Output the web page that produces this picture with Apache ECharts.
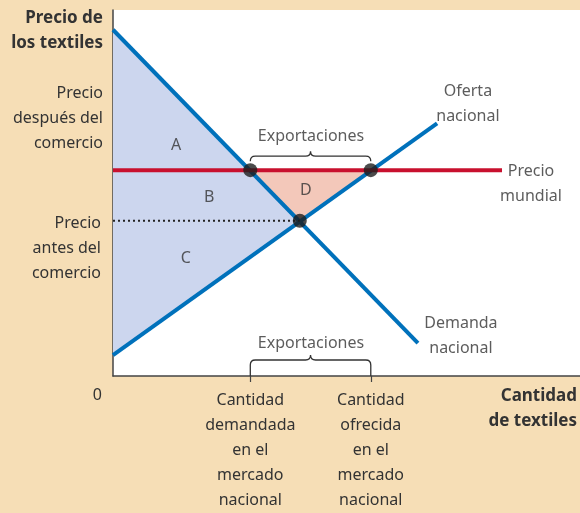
<!DOCTYPE html>
<html>
<head>
<meta charset="utf-8">
<script src="https://cdn.jsdelivr.net/npm/echarts@6/dist/echarts.min.js"></script>
<style>
  html, body { margin: 0; padding: 0; background: #f6deb6; }
  #chart { width: 580px; height: 513px; }
</style>
</head>
<body>
<div id="chart"></div>
<script>
// datos (escala 0-100 en ambos ejes)
var demanda = [[0, 94.6], [65.3, 9.0]];
var oferta = [[0, 5.7], [69.4, 69.0]];
var precioMundial = 56.25;
var finPrecioMundial = 83.3;
var precioAntes = 42.4;
var equilibrio = [40.0, 42.4];
var qDemandada = 29.4;
var qOfrecida = 55.2;

var etiquetasX = ['Cantidad\ndemandada\nen el\nmercado\nnacional', 'Cantidad\nofrecida\nen el\nmercado\nnacional'];
// texto, x, y
var etiquetas = [
  ['A', 13.5, 63.0],
  ['B', 20.6, 48.9],
  ['C', 15.6, 32.1],
  ['D', 41.3, 50.8],
  ['Exportaciones', 42.4, 65.5],
  ['Exportaciones', 42.4, 9.0],
  ['Oferta\nnacional', 76.0, 74.2],
  ['Precio\nmundial', 89.5, 52.4],
  ['Demanda\nnacional', 74.5, 10.9]
];

var fuente = 'Noto Sans';
var texto = '#333';

var areaAzul = [demanda[0], equilibrio, oferta[0]];
var areaD = [[qDemandada, precioMundial], [qOfrecida, precioMundial], equilibrio];

function poligono(puntos, color) {
  return {
    type: 'custom',
    silent: true,
    z: 1,
    data: [0],
    renderItem: function (params, api) {
      var pts = puntos.map(function (p) { return api.coord(p); });
      return { type: 'polygon', shape: { points: pts }, style: { fill: color } };
    }
  };
}

function llave(x1, x2, yb, cola) {
  var r = 5, yl = yb - cola - r, xm = (x1 + x2) / 2;
  return 'M' + x1 + ',' + yb + ' L' + x1 + ',' + (yb - cola) +
    ' Q' + x1 + ',' + yl + ' ' + (x1 + r) + ',' + yl +
    ' L' + (xm - r) + ',' + yl +
    ' Q' + xm + ',' + yl + ' ' + xm + ',' + (yl - r) +
    ' Q' + xm + ',' + yl + ' ' + (xm + r) + ',' + yl +
    ' L' + (x2 - r) + ',' + yl +
    ' Q' + x2 + ',' + yl + ' ' + x2 + ',' + (yb - cola) +
    ' L' + x2 + ',' + yb;
}

function titulo(txt, x, y, negrita) {
  return {
    type: 'text', x: x, y: y,
    style: {
      text: txt, fill: texto, lineHeight: 25, align: 'right', verticalAlign: 'top',
      font: (negrita ? 'bold 17px ' : '16px ') + fuente
    }
  };
}

var chart = echarts.init(document.getElementById('chart'));
var option = {
  animation: false,
  backgroundColor: '#f6deb6',
  textStyle: { fontFamily: fuente },
  grid: { left: 113, right: 0, top: 10, bottom: 135, show: true, backgroundColor: '#fff', borderWidth: 0 },
  xAxis: {
    type: 'value', min: 0, max: 100,
    splitLine: { show: false },
    axisLine: { lineStyle: { color: '#444', width: 1.5 } },
    axisTick: { show: true, customValues: [qDemandada, qOfrecida], length: 6, lineStyle: { color: '#444', width: 1.2 } },
    axisLabel: {
      customValues: [qDemandada, qOfrecida],
      margin: 12,
      color: texto, fontSize: 16, lineHeight: 25, fontFamily: fuente,
      formatter: function (v) { return v === qDemandada ? etiquetasX[0] : etiquetasX[1]; }
    }
  },
  yAxis: {
    type: 'value', min: 0, max: 100,
    splitLine: { show: false },
    axisLine: { show: true, lineStyle: { color: '#444', width: 1.5 } },
    axisTick: { show: false },
    axisLabel: { show: false }
  },
  graphic: [
    titulo('Precio de\nlos textiles', 103, 5.5, true),
    titulo('Precio\ndespués del\ncomercio', 103, 80.5),
    titulo('Precio\nantes del\ncomercio', 101, 210.5),
    titulo('0', 102, 382.5),
    titulo('Cantidad\nde textiles', 577, 383.5, true)
  ],
  series: [
    poligono(areaAzul, '#ccd6ee'),
    poligono(areaD, '#f3c8ba'),
    {
      type: 'line', data: demanda, symbol: 'none', silent: true, z: 3,
      lineStyle: { color: '#0071bb', width: 4 }
    },
    {
      type: 'line', data: oferta, symbol: 'none', silent: true, z: 3,
      lineStyle: { color: '#0071bb', width: 4 }
    },
    {
      type: 'line', data: [[0, precioMundial], [finPrecioMundial, precioMundial]], symbol: 'none', silent: true, z: 4,
      lineStyle: { color: '#c8102e', width: 4 }
    },
    {
      type: 'line', data: [[0, precioAntes], equilibrio], symbol: 'none', silent: true, z: 3,
      lineStyle: { color: '#222', width: 2, type: [2, 3] }
    },
    {
      type: 'scatter', data: [[qDemandada, precioMundial], [qOfrecida, precioMundial], equilibrio],
      symbolSize: 14, silent: true, z: 5,
      itemStyle: { color: '#1e1e1e' }
    },
    {
      type: 'custom', silent: true, z: 4, clip: false,
      data: [[qDemandada, qOfrecida, 58.7, 0], [qDemandada, qOfrecida, 0, 11]],
      renderItem: function (params, api) {
        var a = api.coord([api.value(0), api.value(2)]);
        var b = api.coord([api.value(1), api.value(2)]);
        return {
          type: 'path',
          shape: { pathData: llave(a[0], b[0], a[1], api.value(3)) },
          style: { stroke: '#333', fill: null, lineWidth: 1.3 }
        };
      }
    },
    {
      type: 'scatter', symbolSize: 0, silent: true, z: 6,
      data: etiquetas.map(function (e) { return { name: e[0], value: [e[1], e[2]] }; }),
      label: {
        show: true, position: 'inside', formatter: '{b}',
        color: texto, fontSize: 16, lineHeight: 25, fontFamily: fuente
      }
    }
  ]
};
chart.setOption(option);
</script>
</body>
</html>
